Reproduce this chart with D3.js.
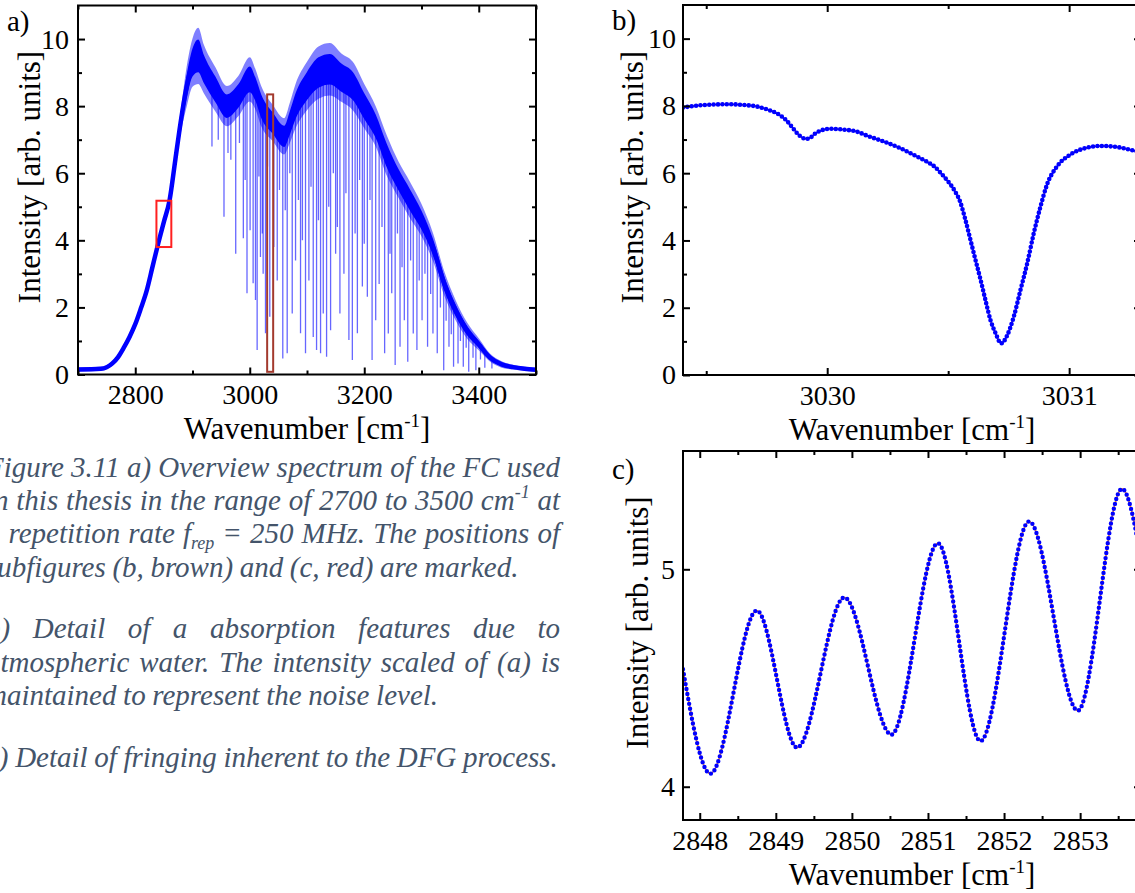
<!DOCTYPE html>
<html>
<head>
<meta charset="utf-8">
<script src="https://cdn.jsdelivr.net/npm/d3@7"></script>
<style>
  body { margin: 0; background: #fff; }
  svg { display: block; }
  svg text { font-family: "Liberation Serif", "DejaVu Serif", serif; }
</style>
</head>
<body>
<div id="fig"></div>
<script>
const W = 1135, H = 893;
const serif = "Liberation Serif, DejaVu Serif, serif";

// a) overview spectrum: envelope centre and noise half width
const aWn    = [2700, 2740, 2760, 2770, 2780, 2790, 2800, 2810, 2820, 2830, 2840, 2850, 2860, 2870, 2880, 2890, 2900, 2910, 2920, 2940, 2960, 2980, 3000, 3010, 3020, 3040, 3060, 3070, 3080, 3100, 3120, 3140, 3160, 3180, 3200, 3220, 3240, 3260, 3280, 3300, 3320, 3340, 3360, 3380, 3400, 3420, 3440, 3460, 3480, 3500];
const aMid   = [0.15, 0.17, 0.33, 0.52, 0.8, 1.12, 1.5, 1.98, 2.5, 3.2, 3.9, 4.55, 5.2, 6.4, 7.6, 8.6, 9.3, 9.5, 9.1, 8.5, 8.0, 8.3, 8.8, 8.5, 8.0, 7.5, 7.1, 7.5, 8.0, 8.6, 9.0, 9.1, 8.85, 8.6, 8.0, 7.4, 6.5, 5.8, 5.2, 4.6, 3.8, 2.7, 1.9, 1.3, 0.9, 0.5, 0.3, 0.22, 0.17, 0.14];
const aNoise = [0.05, 0.05, 0.06, 0.07, 0.08, 0.09, 0.1, 0.1, 0.1, 0.11, 0.12, 0.13, 0.15, 0.2, 0.3, 0.5, 0.6, 0.7, 0.6, 0.55, 0.5, 0.5, 0.55, 0.5, 0.5, 0.45, 0.45, 0.5, 0.55, 0.6, 0.65, 0.65, 0.6, 0.6, 0.55, 0.5, 0.5, 0.45, 0.45, 0.4, 0.35, 0.3, 0.25, 0.2, 0.15, 0.1, 0.08, 0.06, 0.05, 0.05];

// absorption lines: [wavenumber, lowest intensity]
const aDips = [
  [2934, 6.8], [2945, 7.0], [2955, 4.7], [2962, 6.6], [2967, 6.4], [2975.5, 3.6], [2982, 6.9], [2988.8, 4.06],
  [2992, 5.8], [2995.2, 2.42], [3000.6, 4.3], [3005.9, 2.72], [3010, 2.22], [3012.9, 0.73], [3016, 5.9],
  [3018.7, 3.5], [3021.9, 4.2], [3023.4, 3.0], [3027.5, 1.23], [3031, 6.2], [3035, 1.72], [3042, 3.8],
  [3048, 2.8], [3052, 5.5], [3057.7, 0.48], [3062, 4.9], [3065.4, 0.63], [3070, 6.0], [3074.2, 1.82],
  [3080, 3.4], [3085, 5.2], [3088.7, 1.23], [3092, 4.0], [3097.4, 0.63], [3103.3, 2.8], [3107, 5.6],
  [3110.9, 1.12], [3116.7, 0.73], [3120, 4.6], [3123.7, 0.63], [3128.4, 1.82], [3134.2, 0.53], [3138, 5.0],
  [3141.2, 1.32], [3146, 6.0], [3150, 3.6], [3153, 4.4], [3157.5, 1.82], [3164.5, 3.0], [3168, 5.4],
  [3173.2, 1.03], [3179.2, 0.43], [3184, 4.2], [3188, 1.23], [3192, 5.8], [3196.7, 2.62], [3200, 3.9],
  [3205.4, 2.32], [3210, 5.2], [3213.7, 0.43], [3220, 1.62], [3226, 2.7], [3231, 4.4], [3235.6, 0.63],
  [3242, 1.22], [3245, 3.6], [3248, 2.42], [3254, 0.28], [3258, 4.2], [3262.5, 0.83], [3266, 3.2],
  [3270, 1.62], [3276, 0.38], [3281, 3.4], [3285.6, 1.22], [3292, 0.73], [3296, 2.8], [3301, 1.62],
  [3306, 3.0], [3310.6, 0.83], [3316, 2.4], [3320, 1.22], [3327.5, 0.63], [3333, 2.0], [3338.8, 0.13],
  [3343, 1.6], [3348, 0.83], [3352, 1.2], [3356, 0.23], [3363.8, 0.33], [3368, 1.0], [3373, 0.23],
  [3378, 0.8], [3382.5, 0.08], [3390, 0.5], [3395, 0.13], [3403, 0.45], [3410.6, 0.2], [3423, 0.18]
];

// marked regions in (a): [wn0, wn1, y0, y1]
const boxB = [3030.4, 3040.9, 0.08, 8.35];
const boxC = [2837, 2863, 3.8, 5.18];

// b) water absorption detail
const bWn  = [3029.404, 3029.45, 3029.5, 3029.594, 3029.65, 3029.711, 3029.75, 3029.799, 3029.83, 3029.857, 3029.885, 3029.913, 3029.93, 3029.945, 3029.975, 3030.01, 3030.06, 3030.12, 3030.17, 3030.23, 3030.3, 3030.37, 3030.41, 3030.443, 3030.47, 3030.5, 3030.525, 3030.551, 3030.571, 3030.592, 3030.613, 3030.634, 3030.654, 3030.675, 3030.696, 3030.719, 3030.744, 3030.771, 3030.799, 3030.827, 3030.854, 3030.882, 3030.909, 3030.951, 3031.006, 3031.075, 3031.13, 3031.213, 3031.275, 3031.297];
const bVal = [7.95, 8.0, 8.03, 8.05, 8.03, 7.98, 7.9, 7.75, 7.58, 7.35, 7.12, 7.02, 7.05, 7.15, 7.27, 7.32, 7.3, 7.24, 7.1, 6.95, 6.75, 6.5, 6.35, 6.2, 6.0, 5.75, 5.5, 5.12, 4.62, 4.02, 3.42, 2.83, 2.23, 1.63, 1.24, 0.94, 1.18, 1.73, 2.53, 3.33, 4.22, 5.02, 5.67, 6.21, 6.56, 6.76, 6.81, 6.76, 6.66, 6.63];

// c) DFG fringes (extrema)
const cWn  = [2847.78, 2848.14, 2848.75, 2849.28, 2849.90, 2850.52, 2851.13, 2851.69, 2852.33, 2852.97, 2853.55, 2853.80];
const cVal = [4.54, 4.06, 4.81, 4.18, 4.87, 4.24, 5.12, 4.21, 5.22, 4.35, 5.37, 5.05];

// caption
const caption = [
  { y: 477, just: true,  words: ["Figure", "3.11", "a)", "Overview", "spectrum", "of", "the", "FC", "used"] },
  { y: 510, just: true,  words: ["in", "this", "thesis", "in", "the", "range", "of", "2700", "to", "3500", "cm^-1", "at"] },
  { y: 543, just: true,  words: ["a", "repetition", "rate", "f_rep", "=", "250", "MHz.", "The", "positions", "of"] },
  { y: 577, just: false, words: ["subfigures", "(b,", "brown)", "and", "(c,", "red)", "are", "marked."] },
  { y: 638, just: true,  words: ["b)", "Detail", "of", "a", "absorption", "features", "due", "to"] },
  { y: 672, just: true,  words: ["atmospheric", "water.", "The", "intensity", "scaled", "of", "(a)", "is"] },
  { y: 705, just: false, words: ["maintained", "to", "represent", "the", "noise", "level."] },
  { y: 767, just: false, words: ["c)", "Detail", "of", "fringing", "inherent", "to", "the", "DFG", "process."] }
];

const blue = "#0000ff", orange = "#ff8c1a";

const svg = d3.select("#fig").append("svg")
  .attr("width", W).attr("height", H)
  .attr("viewBox", [0, 0, W, H])
  .attr("font-family", serif);
svg.append("rect").attr("width", W).attr("height", H).attr("fill", "#fff");

const fmt = d3.format("d");

function axes(g, x, y, o) {
  const [xl, xr] = x.range(), [yb, yt] = y.range();
  const clean = s => {
    s.attr("font-family", serif).attr("font-size", 28);
    s.select(".domain").remove();
    s.selectAll("line").attr("stroke", "#000").attr("stroke-width", 2);
  };
  g.append("g").attr("transform", `translate(0,${yb})`)
    .call(d3.axisBottom(x).tickValues(o.xMajor).tickSize(-7).tickPadding(10).tickFormat(fmt)).call(clean);
  g.append("g").attr("transform", `translate(0,${yb})`)
    .call(d3.axisBottom(x).tickValues(o.xMinor).tickSize(-4).tickFormat("")).call(clean);
  g.append("g").attr("transform", `translate(0,${yt})`)
    .call(d3.axisTop(x).tickValues(o.xMajor).tickSize(-7).tickFormat("")).call(clean);
  g.append("g").attr("transform", `translate(0,${yt})`)
    .call(d3.axisTop(x).tickValues(o.xMinor).tickSize(-4).tickFormat("")).call(clean);
  g.append("g").attr("transform", `translate(${xl},0)`)
    .call(d3.axisLeft(y).tickValues(o.yMajor).tickSize(-7).tickPadding(o.yPad).tickFormat(fmt)).call(clean);
  g.append("g").attr("transform", `translate(${xl},0)`)
    .call(d3.axisLeft(y).tickValues(o.yMinor).tickSize(-4).tickFormat("")).call(clean);
  g.append("g").attr("transform", `translate(${xr},0)`)
    .call(d3.axisRight(y).tickValues(o.yMajor).tickSize(-7).tickFormat("")).call(clean);
  g.append("g").attr("transform", `translate(${xr},0)`)
    .call(d3.axisRight(y).tickValues(o.yMinor).tickSize(-4).tickFormat("")).call(clean);

  g.append("rect")
    .attr("x", xl).attr("y", yt).attr("width", xr - xl).attr("height", yb - yt)
    .attr("fill", "none").attr("stroke", "#000").attr("stroke-width", 2);

  // titles
  const xt = g.append("text")
    .attr("x", (xl + xr) / 2).attr("y", yb + 64.5)
    .attr("text-anchor", "middle").attr("font-size", 31).attr("font-family", serif);
  xt.append("tspan").text("Wavenumber [cm");
  xt.append("tspan").attr("font-size", 19).attr("dy", -12).text("-1");
  xt.append("tspan").attr("dy", 12).text("]");

  g.append("text")
    .attr("transform", `translate(${o.yTitleX},${(yb + yt) / 2 - 13}) rotate(-90)`)
    .attr("text-anchor", "middle").attr("font-size", 31).attr("font-family", serif)
    .text("Intensity [arb. units]");

  g.append("text").attr("x", o.tag[1]).attr("y", o.tag[2])
    .attr("font-size", 29).attr("font-family", serif).text(o.tag[0]);
}

function clipFor(id, x, y) {
  const [xl, xr] = x.range(), [yb, yt] = y.range();
  svg.append("clipPath").attr("id", id).append("rect")
    .attr("x", xl).attr("y", yt).attr("width", xr - xl).attr("height", yb - yt);
  return `url(#${id})`;
}

// ---------- panel a ----------
const xa = d3.scaleLinear().domain([2700, 3500]).range([78, 536]);
const ya = d3.scaleLinear().domain([0, 11]).range([374.5, 5.5]);
const ga = svg.append("g");
const pa = ga.append("g").attr("clip-path", clipFor("ca", xa, ya));

const env = d3.scaleLinear().domain(aWn).range(aMid);
const aPts = aWn.map((w, i) => ({ w, m: aMid[i], n: aNoise[i] }));

pa.selectAll("line.dip").data(aDips).join("line")
  .attr("class", "dip")
  .attr("x1", d => xa(d[0])).attr("x2", d => xa(d[0]))
  .attr("y1", d => ya(d[1])).attr("y2", d => ya(env(d[0])))
  .attr("stroke", blue).attr("stroke-opacity", 0.6).attr("stroke-width", 1.3);

pa.append("path").datum(aPts)
  .attr("d", d3.area().curve(d3.curveMonotoneX)
    .x(d => xa(d.w)).y0(d => ya(d.m - 1.2 * d.n)).y1(d => ya(d.m + 1.2 * d.n)))
  .attr("fill", blue).attr("fill-opacity", 0.5);
pa.append("path").datum(aPts)
  .attr("d", d3.area().curve(d3.curveMonotoneX)
    .x(d => xa(d.w)).y0(d => ya(d.m - 0.7 * d.n)).y1(d => ya(d.m + 0.7 * d.n)))
  .attr("fill", blue);
pa.append("path").datum(aPts)
  .attr("d", d3.line().curve(d3.curveMonotoneX).x(d => xa(d.w)).y(d => ya(d.m)))
  .attr("fill", "none").attr("stroke", blue).attr("stroke-width", 4.5);

[[boxC, "#ff2020"], [boxB, "#a33a2e"]].forEach(([b, c]) => {
  ga.append("rect")
    .attr("x", xa(b[0])).attr("y", ya(b[3]))
    .attr("width", xa(b[1]) - xa(b[0])).attr("height", ya(b[2]) - ya(b[3]))
    .attr("fill", "none").attr("stroke", c).attr("stroke-width", 2);
});

axes(ga, xa, ya, {
  xMajor: [2800, 3000, 3200, 3400], xMinor: [2700, 2900, 3100, 3300, 3500],
  yMajor: [0, 2, 4, 6, 8, 10], yMinor: [1, 3, 5, 7, 9],
  yPad: 9, yTitleX: 40, tag: ["a)", 7, 31]
});

// ---------- panel b ----------
const xb = d3.scaleLinear().domain([3029.404, 3031.297]).range([683, 1141]);
const yb = d3.scaleLinear().domain([0, 11]).range([375, 5]);
const gb = svg.append("g");
const pb = gb.append("g").attr("clip-path", clipFor("cb", xb, yb));
const bPts = bWn.map((w, i) => [w, bVal[i]]);
const lineB = d3.line().curve(d3.curveMonotoneX).x(d => xb(d[0])).y(d => yb(d[1]));
pb.append("path").datum(bPts).attr("d", lineB)
  .attr("fill", "none").attr("stroke", orange).attr("stroke-width", 1.6);
pb.append("path").datum(bPts).attr("d", lineB)
  .attr("fill", "none").attr("stroke", blue).attr("stroke-width", 4.6)
  .attr("stroke-linecap", "round").attr("stroke-dasharray", "0 4.4");

axes(gb, xb, yb, {
  xMajor: [3030, 3031], xMinor: [3029.5, 3030.5],
  yMajor: [0, 2, 4, 6, 8, 10], yMinor: [1, 3, 5, 7, 9],
  yPad: 7, yTitleX: 643, tag: ["b)", 612, 30]
});

// ---------- panel c ----------
svg.append("rect").attr("x", 580).attr("y", 444).attr("width", 555).attr("height", 449).attr("fill", "#fff");
const xc = d3.scaleLinear().domain([2847.78, 2853.80]).range([683, 1141]);
const yc = d3.scaleLinear().domain([3.847, 5.544]).range([820, 451]);
const gc = svg.append("g");
const pc = gc.append("g").attr("clip-path", clipFor("cc", xc, yc));
const cPts = cWn.map((w, i) => [w, cVal[i]]);
const lineC = d3.line().curve(d3.curveMonotoneX).x(d => xc(d[0])).y(d => yc(d[1]));
pc.append("path").datum(cPts).attr("d", lineC)
  .attr("fill", "none").attr("stroke", orange).attr("stroke-width", 1.6);
pc.append("path").datum(cPts).attr("d", lineC)
  .attr("fill", "none").attr("stroke", blue).attr("stroke-width", 4.4)
  .attr("stroke-linecap", "round").attr("stroke-dasharray", "0 5");

axes(gc, xc, yc, {
  xMajor: [2848, 2849, 2850, 2851, 2852, 2853], xMinor: [2848.5, 2849.5, 2850.5, 2851.5, 2852.5, 2853.5],
  yMajor: [4, 5], yMinor: [],
  yPad: 8, yTitleX: 648, tag: ["c)", 612, 479]
});

// ---------- caption ----------
const cap = svg.append("g")
  .attr("font-size", 29).attr("font-style", "italic").attr("fill", "#44546a")
  .attr("font-family", serif);
const capLeft = -14, capRight = 560;

function addWord(t, w) {
  if (w.includes("^")) {
    const [a, b] = w.split("^");
    t.append("tspan").text(a);
    t.append("tspan").attr("font-size", 18).attr("dy", -12).text(b);
  } else if (w.includes("_")) {
    const [a, b] = w.split("_");
    t.append("tspan").text(a);
    t.append("tspan").attr("font-size", 18).attr("dy", 6).text(b);
  } else {
    t.text(w);
  }
}

caption.forEach(line => {
  const texts = line.words.map(w => {
    const t = cap.append("text").attr("y", line.y);
    addWord(t, w);
    return t;
  });
  const widths = texts.map(t => t.node().getComputedTextLength());
  const total = d3.sum(widths);
  const gap = line.just ? (capRight - capLeft - total) / (texts.length - 1) : 6.6;
  let x = capLeft;
  texts.forEach((t, i) => { t.attr("x", x); x += widths[i] + gap; });
});
</script>
</body>
</html>
